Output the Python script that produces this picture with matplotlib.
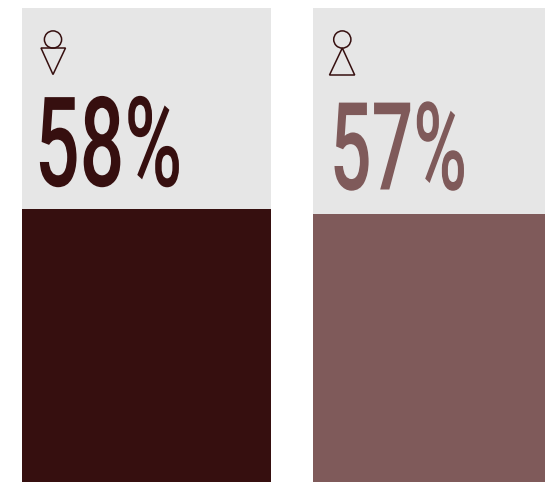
import matplotlib
matplotlib.use('Agg')
import matplotlib.pyplot as plt
from matplotlib.patches import Circle, Polygon
from matplotlib.patheffects import AbstractPathEffect
from matplotlib.transforms import Affine2D

W, H = 545, 482

labels = ['58%', '57%']
values = [58, 57]
colors = ['#360f0f', '#7f5a5a']
track_color = '#e6e6e6'
line_color = '#360f0f'


class SqueezeX(AbstractPathEffect):
    # the installed fonts are too wide, so narrow the glyphs at draw time.
    # anchor is the fixed point as a fraction of the glyph run: 0 left, 1 right
    def __init__(self, sx, anchor=0):
        super().__init__()
        self.sx = sx
        self.anchor = anchor

    def draw_path(self, renderer, gc, tpath, affine, rgbFace=None):
        box = tpath.get_extents()
        x0 = box.x0 + self.anchor * (box.x1 - box.x0)
        squeeze = Affine2D().translate(-x0, 0).scale(self.sx, 1).translate(x0, 0)
        renderer.draw_path(gc, tpath, squeeze + affine, rgbFace)


def panel(left, right, top, bottom):
    ax = fig.add_axes([left / W, 1 - bottom / H, (right - left) / W, (bottom - top) / H])
    ax.set_xlim(0, 1)
    ax.set_ylim(0, 100.75)
    ax.axis('off')
    return ax


def px(x, y):
    return x / W, 1 - y / H


fig = plt.figure(figsize=(W / 100, H / 100), dpi=100)

ax1 = panel(22, 271, 8, 482)
ax2 = panel(313, 545, 8, 482)

for ax, val, col in zip([ax1, ax2], values, colors):
    ax.bar(0.5, 100.75, width=1, color=track_color, linewidth=0)
    ax.bar(0.5, val, width=1, color=col, linewidth=0)

# big percent labels
fig.text(*px(32, 186), labels[0], color=colors[0], fontsize=90, family='Roboto',
         weight=500, ha='left', va='baseline', path_effects=[SqueezeX(0.63, 0)])
fig.text(*px(398, 189.5), labels[1], color=colors[1], fontsize=88, family='Roboto',
         weight=500, ha='center', va='baseline', path_effects=[SqueezeX(0.6, 0.5)])

# female / male symbols, circle with a triangle
style = dict(fill=False, edgecolor=line_color, linewidth=1.1, transform=Affine2D().scale(1, -1).translate(0, H))
fig.add_artist(Circle((53, 39.5), 8.6, **style))
fig.add_artist(Polygon([(41, 48), (65.5, 48), (53, 74.5)], closed=True, **style))
fig.add_artist(Circle((342.3, 39.5), 8.6, **style))
fig.add_artist(Polygon([(342.3, 48), (329.5, 75), (354.7, 75)], closed=True, **style))

fig.savefig('out.png', dpi=100)
